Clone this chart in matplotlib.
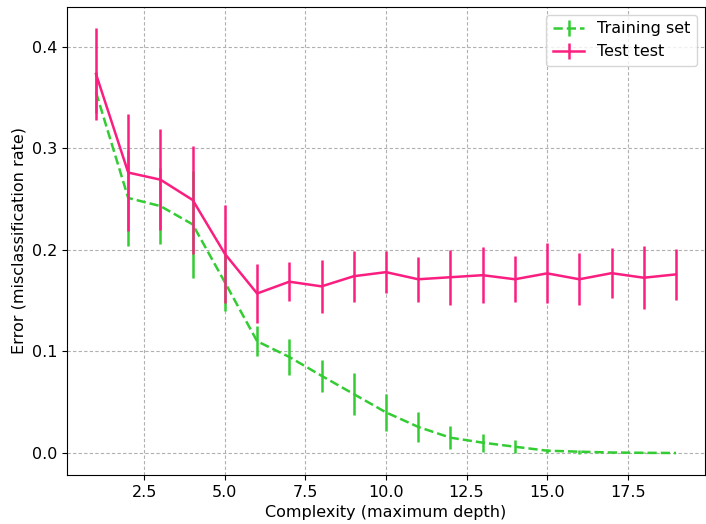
import matplotlib
matplotlib.use("Agg")
import matplotlib.pyplot as plt

depth = list(range(1, 20))
train_err = [0.355, 0.251, 0.243, 0.225, 0.168, 0.110, 0.0945, 0.076, 0.058, 0.040,
             0.0257, 0.0151, 0.0102, 0.0062, 0.0023, 0.0013, 0.0005, 0.0002, 0.0]
train_std = [0.02, 0.047, 0.037, 0.053, 0.028, 0.015, 0.018, 0.0157, 0.021, 0.018,
             0.0145, 0.0115, 0.009, 0.0065, 0.002, 0.002, 0.0008, 0.0004, 0.0002]
test_err = [0.373, 0.276, 0.269, 0.249, 0.196, 0.157, 0.1686, 0.164, 0.174, 0.178,
            0.171, 0.173, 0.175, 0.171, 0.1768, 0.171, 0.177, 0.1725, 0.1758]
test_std = [0.045, 0.058, 0.050, 0.053, 0.048, 0.029, 0.019, 0.026, 0.025, 0.021,
            0.022, 0.027, 0.0275, 0.0225, 0.0295, 0.0255, 0.0245, 0.031, 0.025]

green = "#33cc33"
pink = "#fa1e80"

plt.rcParams['font.size'] = 11.5
fig = plt.figure(figsize=(7.06, 5.24), dpi=100)
ax = fig.add_axes([67/706, 49/524, 638/706, 468/524])

ax.errorbar(depth, train_err, yerr=train_std, color=green, linestyle='--',
            linewidth=1.8, elinewidth=1.8, label='Training set', zorder=2)
ax.errorbar(depth, test_err, yerr=test_std, color=pink, linestyle='-',
            linewidth=1.8, elinewidth=1.8, label='Test test', zorder=3)

ax.grid(True, linestyle=(0, (3, 2)), color='#b0b0b0', linewidth=0.8)
ax.set_axisbelow(True)
ax.set_xlabel('Complexity (maximum depth)')
ax.set_ylabel('Error (misclassification rate)')
ax.set_yticks([0.0, 0.1, 0.2, 0.3, 0.4])
ax.legend(loc='upper right')

fig.savefig('out.png', dpi=100)
